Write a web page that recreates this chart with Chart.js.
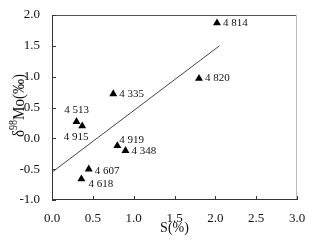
<!DOCTYPE html>
<html>
<head>
<meta charset="utf-8">
<script src="https://cdn.jsdelivr.net/npm/chart.js@4"></script>
<style>
  body { margin: 0; background: #fff; }
  #wrap { width: 314px; height: 241px; }
</style>
</head>
<body>
<div id="wrap"><canvas id="chart"></canvas></div>
<script>
// S(%) vs d98Mo for each sample
var sampleIds = ['4 814', '4 820', '4 335', '4 513', '4 915', '4 919', '4 348', '4 607', '4 618'];
var sValues = [2.02, 1.80, 0.75, 0.30, 0.37, 0.80, 0.90, 0.45, 0.36];
var moValues = [1.87, 0.97, 0.72, 0.27, 0.20, -0.12, -0.20, -0.50, -0.66];

// trend line ends
var fitS = [0, 2.05];
var fitMo = [-0.55, 1.50];

var xTicks = [0, 0.5, 1, 1.5, 2, 2.5, 3];
var yTicks = [-1, -0.5, 0, 0.5, 1, 1.5, 2];

var serif = '"Liberation Serif", "DejaVu Serif", serif';

// where each label sits relative to its triangle
var labelOffset = {
  '4 513': [0, -12, 'center'],
  '4 915': [-6, 11, 'center'],
  '4 919': [2, -6, 'left'],
  '4 618': [7, 5, 'left'],
  '4 607': [6, 2, 'left']
};

var pts = [];
for (var i = 0; i < sValues.length; i++) {
  pts.push({ x: sValues[i], y: moValues[i] });
}
var fit = [];
for (var j = 0; j < fitS.length; j++) {
  fit.push({ x: fitS[j], y: fitMo[j] });
}

var framePlugin = {
  id: 'frame',
  afterDraw: function(c) {
    var ctx = c.ctx, a = c.chartArea;
    var xs = c.scales.x, ys = c.scales.y;
    ctx.save();
    ctx.lineWidth = 1;
    // top and right edges
    ctx.strokeStyle = '#555';
    ctx.beginPath(); ctx.moveTo(a.left, a.top + 0.5); ctx.lineTo(a.right, a.top + 0.5); ctx.stroke();
    ctx.strokeStyle = '#bbb';
    ctx.beginPath(); ctx.moveTo(a.right - 0.5, a.top); ctx.lineTo(a.right - 0.5, a.bottom); ctx.stroke();
    // axes
    ctx.strokeStyle = '#333';
    ctx.beginPath(); ctx.moveTo(a.left + 0.5, a.top); ctx.lineTo(a.left + 0.5, a.bottom); ctx.stroke();
    ctx.beginPath(); ctx.moveTo(a.left, a.bottom - 0.5); ctx.lineTo(a.right, a.bottom - 0.5); ctx.stroke();
    // inward ticks
    xTicks.forEach(function(v) {
      var px = Math.round(xs.getPixelForValue(v)) + 0.5;
      ctx.beginPath(); ctx.moveTo(px, a.bottom); ctx.lineTo(px, a.bottom - 4); ctx.stroke();
    });
    yTicks.forEach(function(v) {
      var py = Math.round(ys.getPixelForValue(v)) + 0.5;
      ctx.beginPath(); ctx.moveTo(a.left, py); ctx.lineTo(a.left + 4, py); ctx.stroke();
    });
    // sample labels
    ctx.fillStyle = '#111';
    ctx.font = '11px ' + serif;
    ctx.textBaseline = 'middle';
    var meta = c.getDatasetMeta(1);
    meta.data.forEach(function(el, k) {
      var id = sampleIds[k];
      var off = labelOffset[id] || [6, 0, 'left'];
      ctx.textAlign = off[2];
      ctx.fillText(id, el.x + off[0], el.y + off[1]);
    });

    // y title with superscript 98
    var cy = (a.top + a.bottom) / 2 - 2;
    ctx.translate(24, cy);
    ctx.rotate(-Math.PI / 2);
    ctx.scale(1, 1.15);
    ctx.textAlign = 'left';
    ctx.textBaseline = 'alphabetic';
    var big = '15px ' + serif, small = '10px ' + serif;
    ctx.font = big;
    var w1 = ctx.measureText('δ').width, w3 = ctx.measureText('Mo(‰)').width;
    ctx.font = small;
    var w2 = ctx.measureText('98').width;
    var x0 = -(w1 + w2 + w3) / 2;
    ctx.font = big;
    ctx.fillText('δ', x0, 0);
    ctx.font = small;
    ctx.fillText('98', x0 + w1, -6);
    ctx.font = big;
    ctx.fillText('Mo(‰)', x0 + w1 + w2, 0);
    ctx.restore();
  }
};

var chart = new Chart(document.getElementById('chart').getContext('2d'), {
  type: 'scatter',
  data: {
    datasets: [{
      type: 'line',
      data: fit,
      borderColor: '#444',
      borderWidth: 1,
      pointRadius: 0,
      fill: false
    }, {
      data: pts,
      pointStyle: 'triangle',
      pointRadius: 4.6,
      backgroundColor: '#000',
      borderColor: '#000',
      borderWidth: 0
    }]
  },
  options: {
    responsive: true,
    maintainAspectRatio: false,
    animation: false,
    layout: { padding: { top: 15, right: 17, left: 0, bottom: 0 } },
    plugins: { legend: { display: false }, tooltip: { enabled: false } },
    scales: {
      x: {
        type: 'linear', min: 0, max: 3,
        afterFit: function(s) { s.height = 41; },
        afterBuildTicks: function(s) { s.ticks = xTicks.map(function(v) { return { value: v }; }); },
        grid: { display: false },
        border: { display: false },
        ticks: { color: '#111', padding: 3, font: { family: serif, size: 13 },
          callback: function(v) { return v.toFixed(1); } },
        title: { display: true, text: 'S(%)', color: '#111', padding: { top: 0, bottom: 4 },
          font: { family: serif, size: 14 } }
      },
      y: {
        type: 'linear', min: -1, max: 2,
        afterFit: function(s) { s.width = 52; },
        afterBuildTicks: function(s) { s.ticks = yTicks.map(function(v) { return { value: v }; }); },
        grid: { display: false },
        border: { display: false },
        ticks: { color: '#111', padding: 4, font: { family: serif, size: 13 },
          callback: function(v) { return v.toFixed(1); } },
        title: { display: false }
      }
    }
  },
  plugins: [framePlugin]
});
</script>
</body>
</html>
